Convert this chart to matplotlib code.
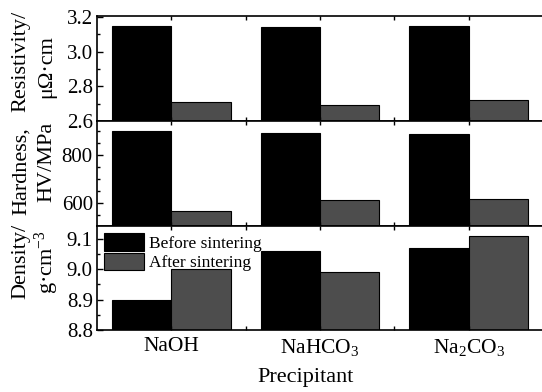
import numpy as np
import matplotlib.pyplot as plt
from matplotlib.ticker import MultipleLocator

plt.rcParams['font.family'] = ['Liberation Serif', 'DejaVu Serif']
plt.rcParams['mathtext.fontset'] = 'custom'
plt.rcParams['mathtext.rm'] = 'Liberation Serif'
plt.rcParams['mathtext.it'] = 'Liberation Serif:italic'

precipitants = ["NaOH", "NaHCO$_3$", "Na$_2$CO$_3$"]
series = ["Before sintering", "After sintering"]

resist_before = [3.15, 3.14, 3.15]
resist_after = [2.71, 2.69, 2.72]
hard_before = [897, 892, 884]
hard_after = [567, 610, 617]
dens_before = [8.90, 9.06, 9.07]
dens_after = [9.00, 8.99, 9.11]

x = np.arange(len(precipitants))
w = 0.4

fig = plt.figure(figsize=(5.42, 3.92), dpi=100)
W, H = 542.0, 392.0
left, right = 97 / W, 543 / W
ax1 = fig.add_axes([left, 1 - 121 / H, right - left, 105 / H])
ax2 = fig.add_axes([left, 1 - 226 / H, right - left, 105 / H])
ax3 = fig.add_axes([left, 1 - 330 / H, right - left, 104 / H])

# (axis, before, after, ylim, major step, minor step, label lines, label centres y)
panels = [
    (ax1, resist_before, resist_after, (2.6, 3.205), 0.2, 0.1,
     ["Resistivity/", "μΩ·cm"], [61, 67]),
    (ax2, hard_before, hard_after, (503, 940), 200, 50,
     ["Hardness,", "HV/MPa"], [171, 162]),
    (ax3, dens_before, dens_after, (8.8, 9.142), 0.1, 0.05,
     ["Density/", "g·cm$^{-3}$"], [261, 262]),
]

for ax, before, after, ylim, major, minor, lines, ys in panels:
    ax.bar(x - w / 2, before, w, color='black', edgecolor='black', linewidth=0.8, label=series[0])
    ax.bar(x + w / 2, after, w, color='#4d4d4d', edgecolor='black', linewidth=0.8, label=series[1])
    ax.set_xlim(-0.5, 2.5)
    ax.set_ylim(*ylim)
    ax.yaxis.set_major_locator(MultipleLocator(major))
    ax.yaxis.set_minor_locator(MultipleLocator(minor))
    ax.set_xticks(x)
    ax.set_xticks([0.5, 1.5], minor=True)
    ax.tick_params(axis='y', which='major', direction='in', length=4, width=1, labelsize=15, pad=3)
    ax.tick_params(axis='y', which='minor', direction='in', length=2, width=1)
    ax.tick_params(axis='x', which='both', direction='in', length=3, width=1, top=True)
    for s in ax.spines.values():
        s.set_linewidth(1.2)
    fig.text(21 / W, 1 - ys[0] / H, lines[0], rotation=90, ha='center', va='center', fontsize=16)
    fig.text(47 / W, 1 - ys[1] / H, lines[1], rotation=90, ha='center', va='center', fontsize=16)

ax1.tick_params(axis='x', labelbottom=False)
ax2.tick_params(axis='x', labelbottom=False)
ax1.yaxis.set_major_formatter(lambda v, p: f"{v:.1f}")
ax3.yaxis.set_major_formatter(lambda v, p: f"{v:.1f}")
ax3.set_xticklabels(precipitants, fontsize=15.5)
ax3.tick_params(axis='x', which='major', pad=5)
ax3.set_xlabel("Precipitant", fontsize=16)
ax3.xaxis.set_label_coords((306 - 97) / 446, -0.5)
ax3.xaxis.label.set_va('baseline')

ax3.legend(loc='upper left', frameon=False, fontsize=12.5, handlelength=2.3, handleheight=1.2,
           labelspacing=0.05, handletextpad=0.3, borderaxespad=0.1, borderpad=0.3)

fig.savefig("out.png", dpi=100)
